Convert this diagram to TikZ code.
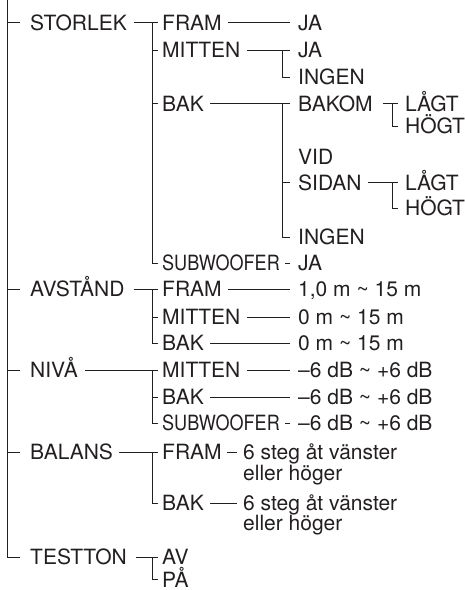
\documentclass[tikz,border=0pt]{standalone}
\usepackage{fontspec}
\setmainfont{TeX Gyre Heros}
\definecolor{ink}{HTML}{231F20}
\begin{document}
\begin{tikzpicture}[x=1pt,y=-1pt,
  every node/.style={inner sep=0pt, anchor=west, text height=15pt, text depth=0pt,
    font=\fontsize{21}{21}\selectfont, text=ink},
  conn/.style={draw=ink, line width=1pt}]
\useasboundingbox (0,0) rectangle (464,590);
% level 1
\node (storlek) at (30,22.5) {STORLEK};
\node (avstand) at (30,289) {AVSTÅND};
\node (niva) at (30,370) {NIVÅ};
\node (balans) at (30,452) {BALANS};
\node (testton) at (30,557) {TESTTON};
% level 2
\node (sfram) at (162,22.5) {FRAM};
\node (smitten) at (162,50) {MITTEN};
\node (sbak) at (162,103.5) {BAK};
\node (ssub) at (162,263) {\scalebox{0.86}[1]{SUBWOOFER}};
\node (afram) at (162,289) {FRAM};
\node (amitten) at (162,317) {MITTEN};
\node (abak) at (162,343) {BAK};
\node (nmitten) at (162,370) {MITTEN};
\node (nbak) at (162,397) {BAK};
\node (nsub) at (162,423) {\scalebox{0.86}[1]{SUBWOOFER}};
\node (bfram) at (162,452) {FRAM};
\node (bbak) at (162,503) {BAK};
\node (tav) at (162,557) {AV};
\node (tpa) at (162,579.5) {PÅ};
% level 3
\node (sframja) at (298,22.5) {JA};
\node (smittenja) at (298,50) {JA};
\node (smitteningen) at (298,77) {INGEN};
\node (bakom) at (298,103.5) {BAKOM};
\node (vid) at (298,157) {VID};
\node (sidan) at (298,182.5) {SIDAN};
\node (bakingen) at (298,237) {INGEN};
\node (subja) at (298,263) {JA};
\node (aframv) at (298,289) {1,0 m \textasciitilde{} 15 m};
\node (amittenv) at (298,317) {0 m \textasciitilde{} 15 m};
\node (abakv) at (298,343) {0 m \textasciitilde{} 15 m};
\node (nmittenv) at (298,370) {–6 dB \textasciitilde{} +6 dB};
\node (nbakv) at (298,397) {–6 dB \textasciitilde{} +6 dB};
\node (nsubv) at (298,423) {–6 dB \textasciitilde{} +6 dB};
\node (bframa) at (243,452) {6 steg åt vänster};
\node (bframb) at (243,473) {eller höger};
\node (bbaka) at (243,503) {6 steg åt vänster};
\node (bbakb) at (243,523) {eller höger};
% level 4
\node (bakomlagt) at (405,103.5) {LÅGT};
\node (bakomhogt) at (405,126) {HÖGT};
\node (sidanlagt) at (405,182.5) {LÅGT};
\node (sidanhogt) at (405,208) {HÖGT};
% main trunk
\coordinate (top) at (7,0);
\draw[conn] (top) |- ([xshift=-10pt]testton.west);
\foreach \n in {storlek,avstand,niva,balans}
  \draw[conn] ([xshift=-23pt]\n.west) -- ([xshift=-10pt]\n.west);
% level 1 -> level 2
\draw[conn] ([xshift=7pt]storlek.east) -- ([xshift=-4pt]sfram.west);
\draw[conn] ([xshift=-10pt]sfram.west) |- ([xshift=-4pt]ssub.west);
\foreach \n in {smitten,sbak}
  \draw[conn] ([xshift=-10pt]\n.west) -- ([xshift=-4pt]\n.west);
\draw[conn] ([xshift=9pt]avstand.east) -- ([xshift=-4pt]afram.west);
\draw[conn] ([xshift=-10pt]afram.west) |- ([xshift=-4pt]abak.west);
\draw[conn] ([xshift=-10pt]amitten.west) -- ([xshift=-4pt]amitten.west);
\draw[conn] ([xshift=7pt]niva.east) -- ([xshift=-4pt]nmitten.west);
\draw[conn] ([xshift=-10pt]nmitten.west) |- ([xshift=-4pt]nsub.west);
\draw[conn] ([xshift=-10pt]nbak.west) -- ([xshift=-4pt]nbak.west);
\draw[conn] ([xshift=6pt]balans.east) -- ([xshift=-4pt]bfram.west);
\draw[conn] ([xshift=-10pt]bfram.west) |- ([xshift=-4pt]bbak.west);
\draw[conn] ([xshift=9pt]testton.east) -- ([xshift=-4pt]tav.west);
\draw[conn] ([xshift=-10pt]tav.west) |- ([xshift=-4pt]tpa.west);
% level 2 -> level 3
\draw[conn] ([xshift=6pt]sfram.east) -- ([xshift=-8pt]sframja.west);
\draw[conn] ([xshift=6pt]smitten.east) -- ([xshift=-8pt]smittenja.west);
\draw[conn] ([xshift=-16pt]smittenja.west) |- ([xshift=-8pt]smitteningen.west);
\draw[conn] ([xshift=6pt]sbak.east) -- ([xshift=-8pt]bakom.west);
\draw[conn] ([xshift=-16pt]bakom.west) |- ([xshift=-8pt]bakingen.west);
\draw[conn] ([xshift=-16pt]sidan.west) -- ([xshift=-8pt]sidan.west);
\draw[conn] ([xshift=5pt]ssub.east) -- ([xshift=-8pt]subja.west);
\draw[conn] ([xshift=6pt]afram.east) -- ([xshift=-8pt]aframv.west);
\draw[conn] ([xshift=6pt]amitten.east) -- ([xshift=-8pt]amittenv.west);
\draw[conn] ([xshift=6pt]abak.east) -- ([xshift=-8pt]abakv.west);
\draw[conn] ([xshift=6pt]nmitten.east) -- ([xshift=-8pt]nmittenv.west);
\draw[conn] ([xshift=6pt]nbak.east) -- ([xshift=-8pt]nbakv.west);
\draw[conn] ([xshift=5pt]nsub.east) -- ([xshift=-8pt]nsubv.west);
\draw[conn] ([xshift=5pt]bfram.east) -- ([xshift=-6pt]bframa.west);
\draw[conn] ([xshift=6pt]bbak.east) -- ([xshift=-6pt]bbaka.west);
% level 3 -> level 4
\draw[conn] ([xshift=10pt]bakom.east) -- ([xshift=-7pt]bakomlagt.west);
\draw[conn] ([xshift=-13pt]bakomlagt.west) |- ([xshift=-7pt]bakomhogt.west);
\draw[conn] ([xshift=6pt]sidan.east) -- ([xshift=-7pt]sidanlagt.west);
\draw[conn] ([xshift=-13pt]sidanlagt.west) |- ([xshift=-7pt]sidanhogt.west);
\end{tikzpicture}
\end{document}
